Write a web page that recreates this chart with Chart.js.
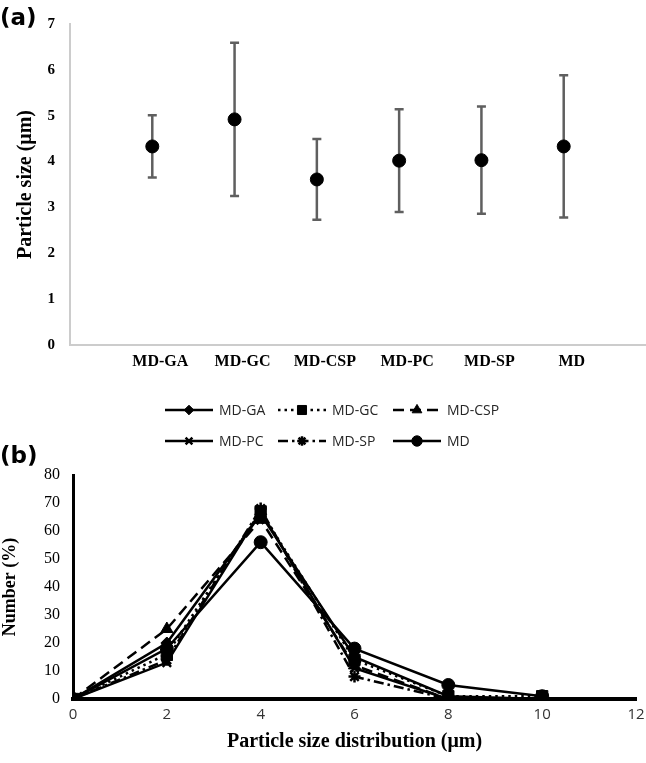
<!DOCTYPE html>
<html>
<head>
<meta charset="utf-8">
<script src="https://cdn.jsdelivr.net/npm/chart.js@4.4.1/dist/chart.umd.min.js"></script>
<style>
  html, body { margin: 0; padding: 0; background: #fff; }
  #page { position: relative; width: 646px; height: 763px; overflow: hidden; }
  .panel { position: absolute; left: 0; font: bold 23px "DejaVu Sans", sans-serif; line-height: 26px; color: #000; }
  #chartA { position: absolute; left: 0; top: 0; }
  #chartB { position: absolute; left: 0; top: 385px; }
</style>
</head>
<body>
<div id="page">
  <canvas id="chartA" width="646" height="385"></canvas>
  <canvas id="chartB" width="646" height="378"></canvas>
  <div class="panel" style="top:4px">(a)</div>
  <div class="panel" style="top:442px">(b)</div>
</div>
<script>
// (a) mean particle size and SD per sample
const samples = ["MD-GA", "MD-GC", "MD-CSP", "MD-PC", "MD-SP", "MD"];
const meanSize = [4.33, 4.92, 3.61, 4.02, 4.03, 4.33];
const sizeSd = [0.68, 1.67, 0.88, 1.12, 1.17, 1.55];

// (b) number distribution per size class (µm)
const sizeClass = [0, 2, 4, 6, 8, 10];
const mdGA = [0, 20, 66, 15, 1, 0];
const mdGC = [0, 16, 67, 14, 1, 1];
const mdCSP = [0, 25, 64, 12, 0, 0];
const mdPC = [0, 13, 67, 11, 0, 0];
const mdSP = [0, 14, 68, 8, 0, 0];
const md = [0, 18, 56, 18, 5, 1];

const serif = "'Liberation Serif', 'Times New Roman', serif";

const errorBars = {
  id: "errorBars",
  beforeDatasetsDraw(chart) {
    const { ctx, scales: { x, y } } = chart;
    ctx.save();
    ctx.strokeStyle = "#5f5f5f";
    ctx.lineWidth = 2.5;
    meanSize.forEach((m, i) => {
      const px = x.getPixelForValue(i + 1);
      const top = y.getPixelForValue(m + sizeSd[i]);
      const bot = y.getPixelForValue(m - sizeSd[i]);
      ctx.beginPath();
      ctx.moveTo(px, top); ctx.lineTo(px, bot);
      ctx.moveTo(px - 4.5, top); ctx.lineTo(px + 4.5, top);
      ctx.moveTo(px - 4.5, bot); ctx.lineTo(px + 4.5, bot);
      ctx.stroke();
    });
    ctx.restore();
  }
};

new Chart(document.getElementById("chartA"), {
  type: "scatter",
  data: {
    datasets: [{
      data: meanSize.map((m, i) => ({ x: i + 1, y: m })),
      backgroundColor: "#000",
      borderColor: "#000",
      pointRadius: 6.5,
      pointHoverRadius: 6.5,
    }],
  },
  options: {
    responsive: false,
    animation: false,
    layout: { autoPadding: false, padding: { top: 10, right: 0, left: 0, bottom: 0 } },
    plugins: { legend: { display: false }, tooltip: { enabled: false } },
    scales: {
      x: {
        type: "linear", min: 0, max: 7,
        grid: { display: false, drawTicks: false },
        border: { color: "#cccccc", width: 2 },
        ticks: {
          stepSize: 1, autoSkip: false, maxRotation: 0, padding: 7, labelOffset: 8,
          color: "#000", font: { family: serif, weight: "bold", size: 16 },
          callback: (v) => samples[v - 1] || "",
        },
        afterFit(scale) {
          scale.height = 40;
          scale.paddingRight = 0;
        },
      },
      y: {
        min: 0, max: 7,
        grid: { display: false, drawTicks: false },
        border: { color: "#cccccc", width: 2 },
        ticks: { stepSize: 1, padding: 15, color: "#000", font: { family: serif, weight: "bold", size: 15 } },
        title: {
          display: true, text: "Particle size (μm)", color: "#000",
          font: { family: serif, weight: "bold", size: 20 }, padding: { top: 14, bottom: 0 },
        },
        afterFit(scale) { scale.width = 70; },
      },
    },
  },
  plugins: [errorBars],
});

// (b)
const seriesNames = ["MD-GA", "MD-GC", "MD-CSP", "MD-PC", "MD-SP", "MD"];
const seriesValues = [mdGA, mdGC, mdCSP, mdPC, mdSP, md];
const markers = ["rectRot", "rect", "triangle", "crossRot", "star", "circle"];
const markerRadius = [6, 8, 7, 6, 6, 6.5];
const dashes = [[], [2.5, 4], [11, 6], [], [10, 4, 2.5, 4], []];

const rowLegend = {
  id: "rowLegend",
  afterDraw(chart) {
    const { ctx } = chart;
    const colX = [165, 278, 393];
    const rowY = [25, 56];
    chart.data.datasets.forEach((ds, i) => {
      const x0 = colX[i % 3];
      const y0 = rowY[Math.floor(i / 3)];
      ctx.save();
      ctx.strokeStyle = "#000";
      ctx.fillStyle = "#000";
      ctx.lineWidth = 2.5;
      ctx.setLineDash(ds.borderDash);
      ctx.beginPath();
      ctx.moveTo(x0, y0);
      ctx.lineTo(x0 + 48, y0);
      ctx.stroke();
      ctx.setLineDash([]);
      ctx.lineWidth = ds.pointBorderWidth;
      Chart.helpers.drawPoint(ctx, {
        pointStyle: ds.pointStyle, radius: ds.pointRadius * 0.8,
        borderWidth: ds.pointBorderWidth, rotation: 0,
      }, x0 + 24, y0);
      ctx.fillStyle = "#262626";
      ctx.font = "14px 'Open Sans', sans-serif";
      ctx.textBaseline = "middle";
      ctx.textAlign = "left";
      ctx.fillText(ds.label, x0 + 54, y0 + 1);
      ctx.restore();
    });
  },
};

new Chart(document.getElementById("chartB"), {
  type: "scatter",
  data: {
    datasets: seriesNames.map((name, s) => ({
      label: name,
      data: sizeClass.map((x, i) => ({ x, y: seriesValues[s][i] })),
      showLine: true,
      borderColor: "#000",
      backgroundColor: "#000",
      borderWidth: 2.5,
      borderDash: dashes[s],
      pointStyle: markers[s],
      pointRadius: markerRadius[s],
      pointHoverRadius: markerRadius[s],
      pointBorderWidth: markers[s] === "crossRot" || markers[s] === "star" ? 2.5 : 1,
    })),
  },
  options: {
    responsive: false,
    animation: false,
    layout: { padding: { top: 90, right: 10, left: 0, bottom: 0 } },
    plugins: { legend: { display: false }, tooltip: { enabled: false } },
    scales: {
      x: {
        type: "linear", min: 0, max: 12,
        grid: { display: false, drawTicks: false },
        border: { color: "#000", width: 4 },
        ticks: { stepSize: 2, padding: 7, color: "#333", font: { family: "'Open Sans', sans-serif", size: 15 } },
        title: {
          display: true, text: "Particle size distribution (μm)", color: "#000",
          font: { family: serif, weight: "bold", size: 20 }, padding: { top: 0, bottom: 9 },
        },
        afterFit(scale) {
          scale.height = 64;
          scale.paddingRight = 9;
        },
      },
      y: {
        min: 0, max: 80,
        grid: { display: false, drawTicks: false },
        border: { color: "#000", width: 3 },
        ticks: { stepSize: 10, padding: 13, color: "#000", font: { family: serif, size: 16 } },
        title: {
          display: true, text: "Number (%)", color: "#000",
          font: { family: serif, weight: "bold", size: 18 }, padding: { top: 0, bottom: 0 },
        },
        afterFit(scale) { scale.width = 73; },
      },
    },
  },
  plugins: [rowLegend],
});
</script>
</body>
</html>
